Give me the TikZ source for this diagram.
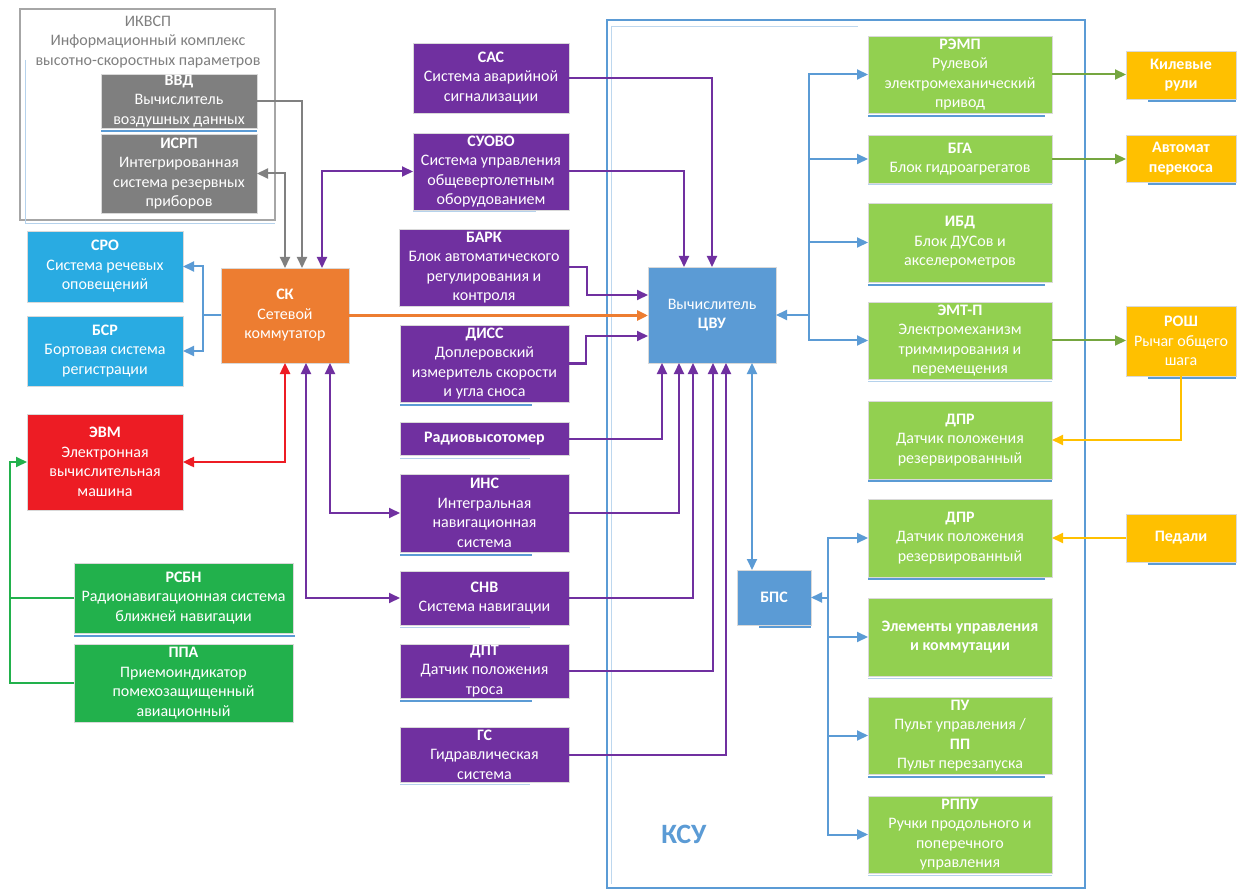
\documentclass[tikz,border=0pt]{standalone}
\usepackage{fontspec}
\setmainfont{Carlito}
\usetikzlibrary{arrows.meta}

\definecolor{purp}{HTML}{7030A0}
\definecolor{bline}{HTML}{5B9BD5}
\definecolor{skor}{HTML}{ED7D31}
\definecolor{evmred}{HTML}{ED1C24}
\definecolor{sky}{HTML}{29ABE2}
\definecolor{dgreen}{HTML}{22B14C}
\definecolor{lgreen}{HTML}{92D050}
\definecolor{gold}{HTML}{FFC000}
\definecolor{gbox}{HTML}{7F7F7F}
\definecolor{gline}{HTML}{808080}
\definecolor{lgline}{HTML}{A6A6A6}

\tikzset{
  blkbox/.style={rectangle, draw=black!15, line width=0.6pt, inner sep=0pt,
    outer sep=0pt, text=white, align=center,
    font=\fontsize{16}{19.5}\selectfont},
  >={Triangle[length=11pt,width=10pt]},
  pline/.style={draw=purp, line width=2pt},
  bwire/.style={draw=bline, line width=2pt},
  gwire/.style={draw=gline, line width=2pt},
  rwire/.style={draw=evmred, line width=2.4pt},
  owire/.style={draw=skor, line width=3.2pt},
  grwire/.style={draw=dgreen, line width=2pt},
  lgwire/.style={draw=lgreen!80!black, line width=2pt},
  ywire/.style={draw=gold, line width=2pt},
  underbar/.style={draw=bline, line width=2.6pt},
  faintbar/.style={draw=bline!45, line width=1pt},
}

% name, x1, y1, x2, y2, fill, text
\newcommand\blk[7]{%
  \node[blkbox, fill=#6, minimum width={(#4)-(#2)}, minimum height={(#5)-(#3)}]
    (#1) at ({((#2)+(#4))/2},{((#3)+(#5))/2}) {#7};}

\begin{document}
\begin{tikzpicture}[x=1pt,y=-1pt]
  \fill[white] (0,0) rectangle (1239,890);
  \useasboundingbox (0,0) rectangle (1239,890);

  % КСУ container
  \node[draw=bline, line width=2pt, minimum width=478, minimum height=868,
        inner sep=0pt, outer sep=0pt] (ksu) at (846,454) {};
  \draw[bline!40, line width=0.8pt] (611,26) -- (858,26);
  \draw[bline!40, line width=0.8pt] (611,26) -- (611,884);
  \node[text=bline, font=\fontsize{28}{30}\selectfont\bfseries] (ksulbl) at (684,834) {КСУ};

  % ИКВСП container
  \node[draw=lgline, line width=2pt, minimum width=255, minimum height=211,
        inner sep=0pt, outer sep=0pt] (ikvsp) at (147.5,114.5) {};
  \draw[bline!45, line width=0.8pt] (25,60) -- (25,223) -- (275,223);
  \node[text=gbox, align=center, font=\fontsize{16}{19.5}\selectfont] (ikvsplbl)
    at (148,42) {ИКВСП\\Информационный комплекс\\высотно-скоростных параметров};

  % left column
  \blk{vvd}{101}{74}{257}{128}{gbox}{\textbf{ВВД}\\Вычислитель\\воздушных данных}
  \blk{isrp}{101}{134}{257}{213}{gbox}{\textbf{ИСРП}\\Интегрированная\\система резервных\\приборов}
  \draw[bline, line width=2pt] (101,131) -- (257,131);
  \blk{sro}{27}{231}{183}{302}{sky}{\textbf{СРО}\\Система речевых\\оповещений}
  \blk{bsr}{27}{316}{183}{386}{sky}{\textbf{БСР}\\Бортовая система\\регистрации}
  \blk{sk}{221}{268}{349}{363}{skor}{\textbf{СК}\\Сетевой\\коммутатор}
  \blk{evm}{27}{414}{183}{510}{evmred}{\textbf{ЭВМ}\\Электронная\\вычислительная\\машина}
  \blk{rsbn}{74}{563}{293}{633}{dgreen}{\textbf{РСБН}\\Радионавигационная система\\ближней навигации}
  \blk{ppa}{74}{644}{293}{722}{dgreen}{\textbf{ППА}\\Приемоиндикатор\\помехозащищенный\\авиационный}
  \draw[underbar] (74,636) -- (295,636);

  % purple column
  \blk{sac}{413}{43}{569}{113}{purp}{\textbf{САС}\\Система аварийной\\сигнализации}
  \blk{suovo}{413}{133}{569}{210}{purp}{\textbf{СУОВО}\\Система управления\\общевертолетным\\оборудованием}
  \blk{bark}{399}{229}{569}{306}{purp}{\textbf{БАРК}\\Блок автоматического\\регулирования и\\контроля}
  \blk{diss}{400}{325}{569}{402}{purp}{\textbf{ДИСС}\\Доплеровский\\измеритель скорости\\и угла сноса}
  \blk{radio}{400}{422}{569}{455}{purp}{\textbf{Радиовысотомер}}
  \blk{ins}{400}{474}{569}{552}{purp}{\textbf{ИНС}\\Интегральная\\навигационная\\система}
  \blk{snv}{400}{571}{569}{625}{purp}{\textbf{СНВ}\\Система навигации}
  \blk{dpt}{400}{644}{569}{698}{purp}{\textbf{ДПТ}\\Датчик положения\\троса}
  \blk{gs}{400}{727}{569}{782}{purp}{\textbf{ГС}\\Гидравлическая\\система}
  \draw[faintbar] (413,212) -- (536,212);
  \draw[underbar] (400,405) -- (532,405);
  \draw[faintbar] (400,458) -- (530,458);
  \draw[underbar] (400,555) -- (532,555);
  \draw[faintbar] (400,627) -- (530,627);
  \draw[underbar] (400,701) -- (532,701);
  \draw[faintbar] (400,784) -- (530,784);

  % computers
  \blk{cvu}{648}{267}{776}{363}{bline}{Вычислитель\\\textbf{ЦВУ}}
  \blk{bps}{737}{570}{811}{625}{bline}{\textbf{БПС}}
  \draw[underbar] (759,627) -- (811,627);

  % actuators and sensors inside КСУ
  \blk{remp}{868}{36}{1052}{113}{lgreen}{\textbf{РЭМП}\\Рулевой\\электромеханический\\привод}
  \blk{bga}{868}{135}{1052}{183}{lgreen}{\textbf{БГА}\\Блок гидроагрегатов}
  \blk{ibd}{868}{203}{1052}{282}{lgreen}{\textbf{ИБД}\\Блок ДУСов и\\акселерометров}
  \blk{emt}{868}{302}{1052}{379}{lgreen}{\textbf{ЭМТ-П}\\Электромеханизм\\триммирования и\\перемещения}
  \blk{dpr1}{868}{401}{1052}{479}{lgreen}{\textbf{ДПР}\\Датчик положения\\резервированный}
  \blk{dpr2}{868}{499}{1052}{577}{lgreen}{\textbf{ДПР}\\Датчик положения\\резервированный}
  \blk{elem}{868}{598}{1052}{676}{lgreen}{\textbf{Элементы управления}\\\textbf{и коммутации}}
  \blk{pu}{868}{697}{1052}{774}{lgreen}{\textbf{ПУ}\\Пульт управления /\\\textbf{ПП}\\Пульт перезапуска}
  \blk{rppu}{868}{796}{1052}{873}{lgreen}{\textbf{РППУ}\\Ручки продольного и\\поперечного\\управления}
  \draw[underbar] (868,116) -- (1045,116);
  \draw[faintbar] (868,185) -- (1052,185);
  \draw[underbar] (868,285) -- (1045,285);
  \draw[faintbar] (868,381) -- (1052,381);
  \draw[underbar] (868,481) -- (1052,481);
  \draw[underbar] (868,579) -- (1045,579);
  \draw[faintbar] (868,678) -- (1052,678);
  \draw[underbar] (868,777) -- (1045,777);
  \draw[faintbar] (868,875) -- (1052,875);

  % controls outside КСУ
  \blk{kil}{1126}{51}{1236}{99}{gold}{\textbf{Килевые}\\\textbf{рули}}
  \blk{avt}{1126}{135}{1236}{182}{gold}{\textbf{Автомат}\\\textbf{перекоса}}
  \blk{rosh}{1126}{306}{1236}{376}{gold}{\textbf{РОШ}\\Рычаг общего\\шага}
  \blk{ped}{1126}{514}{1236}{562}{gold}{\textbf{Педали}}
  \draw[underbar] (1148,101) -- (1236,101);
  \draw[underbar] (1148,184) -- (1236,184);
  \draw[underbar] (1148,378) -- (1236,378);
  \draw[underbar] (1148,564) -- (1236,564);

  % ---- connections ----
  % ИКВСП to СК
  \draw[gwire,->] (vvd.east) -| ([xshift=17pt]sk.north);
  \draw[gwire,<->] (isrp.east) -| (sk.north);
  \draw[pline,<->] (suovo.west) -| ([xshift=37pt]sk.north);

  % СК to СРО and БСР
  \draw[bwire] (sk.west) -- ++(-18,0) coordinate (skbus);
  \draw[bwire,->] (skbus) |- (sro.east);
  \draw[bwire,->] (skbus) |- (bsr.east);

  % СК and ЭВМ
  \draw[rwire,<->] (evm.east) -| (sk.south);

  % СК to ИНС and СНВ
  \draw[pline,<->] (snv.west) -| ([xshift=21pt]sk.south);
  \draw[pline,<->] (ins.west) -| ([xshift=45pt]sk.south);

  % navigation receivers to ЭВМ
  \draw[grwire] (rsbn.west) -- ++(-64,0);
  \draw[grwire,->] (ppa.west) -- ++(-64,0) |- (evm.west);

  % СК to ЦВУ
  \draw[owire,->] (sk.east) -- (sk.east -| cvu.west);

  % purple sources to ЦВУ
  \draw[pline,->] (sac.east) -| (cvu.north);
  \draw[pline,->] (suovo.east) -| ([xshift=-28pt]cvu.north);
  \draw[pline,->] (bark.east) -- ++(18,0) |- ([yshift=20pt]cvu.west);
  \draw[pline,->] (diss.east) -- ++(17,0) |- ([yshift=-21pt]cvu.west);
  \draw[pline,->] (radio.east) -| ([xshift=-50pt]cvu.south);
  \draw[pline,->] (ins.east) -| ([xshift=-33pt]cvu.south);
  \draw[pline,->] (snv.east) -| ([xshift=-19pt]cvu.south);
  \draw[pline,->] (dpt.east) -| ([xshift=1pt]cvu.south);
  \draw[pline,->] (gs.east) -| ([xshift=14pt]cvu.south);

  % ЦВУ and БПС
  \draw[bwire,<->] ([xshift=40pt]cvu.south) -- ([xshift=40pt]cvu.south |- bps.north);

  % ЦВУ to actuators
  \draw[bwire,<-] (cvu.east) -- ++(33,0) coordinate (cvubus);
  \draw[bwire,->] (cvubus) |- (remp.west);
  \draw[bwire,->] (cvubus) |- (bga.west);
  \draw[bwire,->] (cvubus) |- (ibd.west);
  \draw[bwire,->] (cvubus) |- (emt.west);

  % БПС to control elements
  \draw[bwire,<-] (bps.east) -- ++(17,0) coordinate (bpsbus);
  \draw[bwire,->] (bpsbus) |- (dpr2.west);
  \draw[bwire,->] (bpsbus) |- (elem.west);
  \draw[bwire,->] (bpsbus) |- (pu.west);
  \draw[bwire,->] (bpsbus) |- (rppu.west);

  % actuators to controls
  \draw[lgwire,->] (remp.east) -- (remp.east -| kil.west);
  \draw[lgwire,->] (bga.east) -- (bga.east -| avt.west);
  \draw[lgwire,->] (emt.east) -- (emt.east -| rosh.west);

  % controls to position sensors
  \draw[ywire,->] (rosh.south) |- (dpr1.east);
  \draw[ywire,->] (ped.west) -- (ped.west -| dpr2.east);
\end{tikzpicture}
\end{document}
